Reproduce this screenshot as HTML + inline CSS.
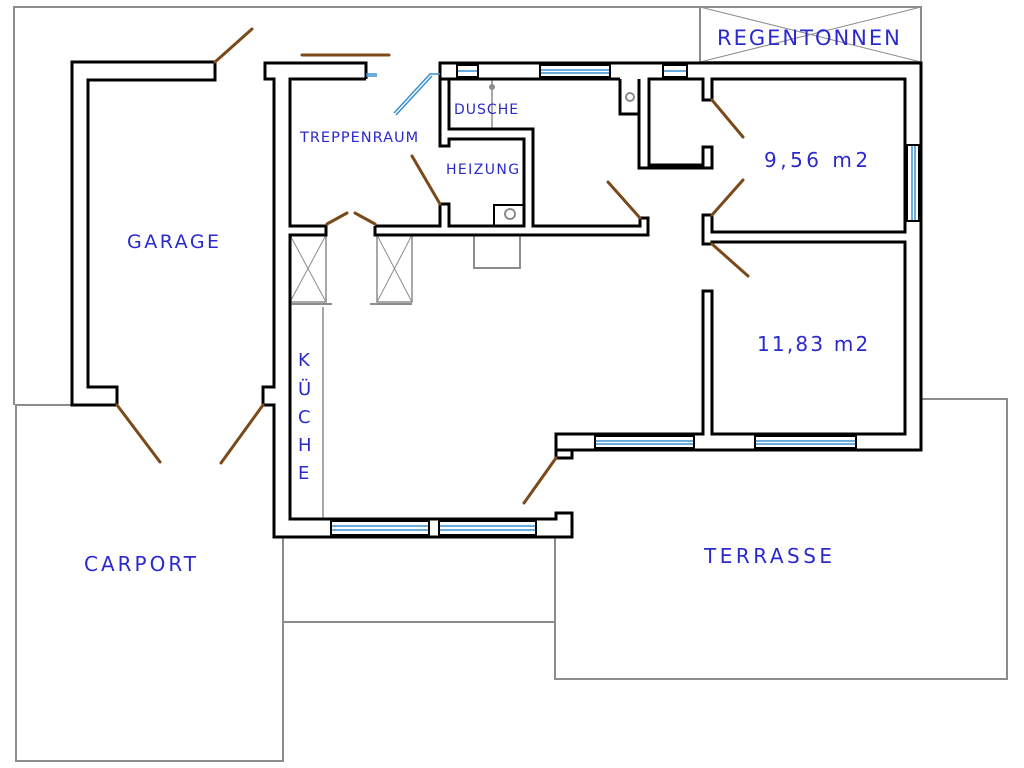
<!DOCTYPE html>
<html><head><meta charset="utf-8"><style>
html,body{margin:0;padding:0;background:#fff;}
svg{display:block}
text{font-family:"DejaVu Sans","Liberation Sans",sans-serif;fill:#2a2acc;}
</style></head><body>
<svg width="1024" height="768" viewBox="0 0 1024 768" xmlns="http://www.w3.org/2000/svg">
<g fill="none" stroke="#8c8c8c" stroke-width="2">
<polyline points="14,405 14,7 921,7 921,62"/>
<rect x="700" y="7" width="221" height="55"/>
<line x1="700" y1="7" x2="921" y2="62" stroke-width="1"/>
<line x1="921" y1="7" x2="700" y2="62" stroke-width="1"/>
<polyline points="72,405 16,405 16,761 283,761 283,537"/>
<line x1="283" y1="622" x2="555" y2="622"/>
<polyline points="555,537 555,679 1007,679 1007,399 921,399"/>
<line x1="323" y1="307" x2="323" y2="519" stroke-width="1.5"/>
<rect x="290" y="235" width="36" height="67" stroke-width="1.5"/>
<line x1="290" y1="235" x2="326" y2="302" stroke-width="1"/><line x1="326" y1="235" x2="290" y2="302" stroke-width="1"/>
<rect x="377" y="235" width="35" height="67" stroke-width="1.5"/>
<line x1="377" y1="235" x2="412" y2="302" stroke-width="1"/><line x1="412" y1="235" x2="377" y2="302" stroke-width="1"/>
<line x1="290" y1="304" x2="332" y2="304"/><line x1="370" y1="304" x2="412" y2="304"/>
<rect x="474" y="235" width="46" height="33"/>
<line x1="492" y1="79" x2="492" y2="129" stroke-width="1.5"/>
<circle cx="492" cy="87" r="3" fill="#8c8c8c" stroke="none"/>
<circle cx="510" cy="214" r="5"/>
<circle cx="630" cy="97" r="4"/>
</g>
<g fill="none" stroke="#000" stroke-width="3" stroke-linejoin="miter">
<polyline points="215,62 72,62 72,405 117,405 117,387 88,387 88,80 215,80 215,62"/>
<polyline points="366,79 366,63 265,63 265,79 274,79 274,387 263,387 263,405 274,405 274,537 572,537 572,513 556,513 556,519 290,519 290,235 326,235 326,226 290,226 290,79 366,79"/>
<polyline points="375,226 375,235 648,235 648,218 640,218 640,226 533,226 533,129 449,129 449,79 440,79 440,146 449,146 449,139 524,139 524,226 449,226 449,204 440,204 440,226 375,226"/>
<polyline points="440,79 440,63 921,63 921,450 556,450 556,458 572,458 572,450"/>
<polyline points="556,450 556,434 703,434 703,291 712,291 712,434 905,434 905,242 712,242 712,244 703,244 703,215 712,215 712,232 905,232 905,79 712,79 712,100 703,100 703,79 649,79 649,165 703,165 703,147 712,147 712,168 649,168"/>
<polyline points="639,79 639,168 649,168"/>
<polyline points="620,79 620,114 639,114"/>
<line x1="440" y1="79" x2="620" y2="79"/>
<rect x="494" y="205" width="30" height="21" stroke-width="2"/>
</g>
<g stroke="#3a8fd0" stroke-width="1.5" fill="none">
<rect x="457" y="65" width="21" height="12" stroke="#000" stroke-width="2" fill="#fff"/><line x1="458" y1="71" x2="477" y2="71"/>
<rect x="540" y="65" width="70" height="12" stroke="#000" stroke-width="2" fill="#fff"/><line x1="541" y1="70" x2="609" y2="70"/><line x1="541" y1="73" x2="609" y2="73"/>
<rect x="663" y="65" width="24" height="12" stroke="#000" stroke-width="2" fill="#fff"/><line x1="664" y1="71" x2="686" y2="71"/>
<rect x="907" y="145" width="12" height="76" stroke="#000" stroke-width="2" fill="#fff"/><line x1="912" y1="146" x2="912" y2="220"/><line x1="915" y1="146" x2="915" y2="220"/>
<rect x="595" y="436" width="99" height="12" stroke="#000" stroke-width="2" fill="#fff"/><line x1="596" y1="441" x2="693" y2="441"/><line x1="596" y1="444" x2="693" y2="444"/>
<rect x="755" y="436" width="101" height="12" stroke="#000" stroke-width="2" fill="#fff"/><line x1="756" y1="441" x2="855" y2="441"/><line x1="756" y1="444" x2="855" y2="444"/>
<rect x="331" y="521" width="98" height="14" stroke="#000" stroke-width="2" fill="#fff"/><line x1="332" y1="526" x2="428" y2="526"/><line x1="332" y1="530" x2="428" y2="530"/>
<rect x="439" y="521" width="97" height="14" stroke="#000" stroke-width="2" fill="#fff"/><line x1="440" y1="526" x2="535" y2="526"/><line x1="440" y1="530" x2="535" y2="530"/>
<line x1="366" y1="74" x2="377" y2="74"/><line x1="366" y1="76" x2="377" y2="76"/>
<line x1="394" y1="113" x2="430" y2="74"/><line x1="396" y1="115" x2="432" y2="76"/>
<line x1="429" y1="74" x2="440" y2="74"/>
</g>
<g stroke="#7a4a1a" stroke-width="3" stroke-linecap="round">
<line x1="302" y1="55" x2="389" y2="55"/>
<line x1="215" y1="62" x2="252" y2="29"/>
<line x1="117" y1="405" x2="160" y2="462"/>
<line x1="263" y1="405" x2="221" y2="463"/>
<line x1="327" y1="224" x2="347" y2="213"/>
<line x1="355" y1="213" x2="375" y2="224"/>
<line x1="412" y1="156" x2="440" y2="204"/>
<line x1="608" y1="182" x2="640" y2="218"/>
<line x1="712" y1="100" x2="743" y2="137"/>
<line x1="712" y1="215" x2="743" y2="180"/>
<line x1="712" y1="244" x2="748" y2="276"/>
<line x1="556" y1="458" x2="524" y2="503"/>
</g>
<text x="127" y="248" font-size="19" letter-spacing="2.5">GARAGE</text>
<text x="300" y="142" font-size="14.5" letter-spacing="1">TREPPENRAUM</text>
<text x="454" y="114" font-size="14" letter-spacing="1">DUSCHE</text>
<text x="446" y="174" font-size="14" letter-spacing="1.4">HEIZUNG</text>
<text x="717" y="45" font-size="21" letter-spacing="2">REGENTONNEN</text>
<text x="764" y="167" font-size="20" letter-spacing="3.5">9,56 m2</text>
<text x="757" y="351" font-size="20" letter-spacing="2.2">11,83 m2</text>
<text x="84" y="571" font-size="20" letter-spacing="3">CARPORT</text>
<text x="704" y="563" font-size="20" letter-spacing="3.5">TERRASSE</text>
<g font-size="18"><text x="298" y="366">K</text><text x="298" y="395">Ü</text><text x="298" y="423">C</text><text x="298" y="451">H</text><text x="298" y="479">E</text></g>
</svg>
</body></html>
